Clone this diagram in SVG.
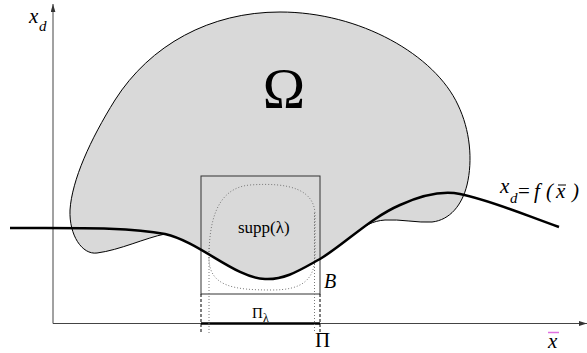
<svg xmlns="http://www.w3.org/2000/svg" width="587" height="353" viewBox="0 0 587 353">
<style>
.t{font-family:"Liberation Serif","Times New Roman",serif;fill:#000}
.it{font-style:italic}
.ax{stroke:#444;stroke-width:1;fill:none}
.thin{stroke:#000;stroke-width:1;fill:none}
.dash{stroke:#000;stroke-width:1;stroke-dasharray:3 2;fill:none}
.dot{stroke:#777;stroke-width:1;stroke-dasharray:1 2;fill:none}
</style>
<defs>
<marker id="arr" viewBox="0 0 10 6" refX="10" refY="3" markerWidth="8" markerHeight="5" markerUnits="userSpaceOnUse" orient="auto">
<path d="M0,0 L10,3 L0,6 Z" fill="#333"/>
</marker>
</defs>
<rect width="587" height="353" fill="#fff"/>
<g id="omega">
<path d="M165,234 C200,242 235,278 265,279 C285,280 300,270 320,259 C332.5,251.5 345,241.250 358.1,231.25 C365,226 372,221 385,220 C400,219 418,223 432,222 C450,220 462,205 467,185 C473,160 470,130 458,105 C435,55 360,12 280,12 C210,12 150,45 115,100 C90,140 72,180 70,210 C69,235 82,255 97,253 C120,250 145,238 165,234 Z" fill="#d9d9d9" stroke="#000" stroke-width="1"/>
<text class="t" x="284" y="108" font-size="57" text-anchor="middle">Ω</text>
</g>
<g id="axes">
<line class="ax" x1="53" y1="323.5" x2="53" y2="4" marker-end="url(#arr)"/>
<line class="ax" x1="53" y1="323.5" x2="587" y2="323.5" marker-end="url(#arr)"/>
<line x1="201" y1="323.5" x2="320" y2="323.5" stroke="#000" stroke-width="2.5"/>
</g>
<g id="supp">
<path class="dot" d="M209,258 C209,225 215,188 250,185 C290,182 315,190 315,215 L315,255 C315,280 302,290 272,290 C235,290 209,287 209,258 Z"/>
<text class="t" x="238" y="233" font-size="17">supp(λ)</text>
</g>
<g id="box-B">
<rect x="201" y="176" width="119" height="118" fill="none" stroke="#333" stroke-width="1"/>
<text class="t it" x="324" y="288" font-size="20">B</text>
</g>
<g id="projections">
<line class="dash" x1="201" y1="294" x2="201" y2="333"/>
<line class="dash" x1="320" y1="294" x2="320" y2="333"/>
<line class="dot" x1="209" y1="248" x2="209" y2="333"/>
<line class="dot" x1="314.5" y1="213" x2="314.5" y2="333"/>
</g>
<g id="curve">
<path d="M10,228 C80,228 130,227 165,234 C200,242 235,278 265,279 C285,280 300,270 320,259 C345,244 370,218 400,205 C420,196 440,190 460,194 C490,200 525,215 559,227" fill="none" stroke="#000" stroke-width="2.5"/>
</g>
<g id="labels">
<text class="t it" font-size="21"><tspan x="29" y="23">x</tspan><tspan x="39" y="31" font-size="15">d</tspan></text>
<text class="t it" font-size="21"><tspan x="500" y="193">x</tspan><tspan x="510" y="203" font-size="15">d</tspan><tspan x="518" y="198" font-style="normal">=</tspan><tspan x="534" y="198">f</tspan><tspan x="546" y="198">(</tspan><tspan x="556" y="198">x</tspan><tspan x="572" y="198">)</tspan></text>
<line x1="558" y1="185" x2="566" y2="185" stroke="#000" stroke-width="1"/>
<text class="t it" x="548" y="348" font-size="21">x</text>
<line x1="548" y1="332.5" x2="559" y2="332.5" stroke="#e070e0" stroke-width="1.5"/>
<text class="t" x="315" y="347" font-size="21">Π</text>
<text class="t"><tspan x="252" y="318" font-size="15">Π</tspan><tspan x="263" y="322" font-size="12">λ</tspan></text>
</g>
</svg>
